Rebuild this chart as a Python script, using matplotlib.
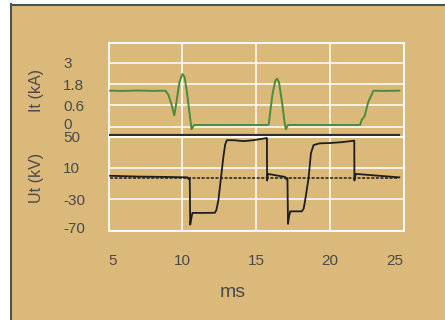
import numpy as np
import matplotlib
matplotlib.use("Agg")
import matplotlib.pyplot as plt
from matplotlib.patches import Rectangle
from matplotlib.lines import Line2D
from matplotlib.transforms import ScaledTranslation

# ── Palette ─────────────────────────────────────────────
TAN    = "#DBB97B"
BORDER = "#4B5651"
GREEN  = "#4B8C3C"
INK    = "#1E1E1E"
TEXT   = "#4A4A4A"
GRID   = "#FFFFFF"

plt.rcParams["font.family"] = ["Liberation Sans", "DejaVu Sans"]

# ── Data ────────────────────────────────────────────────
# current It (kA)
it_ms = [5.1, 6.0, 7.0, 8.0, 8.85, 9.05, 9.25, 9.45, 9.6, 9.8, 10.0, 10.15,
         10.3, 10.45, 10.62, 10.8, 12.0, 14.0, 15.8, 15.85, 16.1, 16.3, 16.42,
         16.55, 16.75, 16.95, 17.02, 17.15, 20.0, 22.05, 22.15, 22.35, 22.6,
         22.95, 23.5, 24.7]
it_ka = [1.43, 1.42, 1.44, 1.42, 1.43, 1.2, 0.7, 0.32, 0.8, 1.9, 2.37, 2.2,
         1.4, 0.5, -0.07, 0.05, 0.05, 0.05, 0.05, 0.06, 1.2, 2.0, 2.11,
         1.9, 0.8, 0.05, -0.07, 0.05, 0.05, 0.05, 0.19, 0.3, 0.8,
         1.43, 1.42, 1.43]

# voltage Ut (kV)
ut_ms = [5.1, 7.0, 9.0, 10.35, 10.4, 10.5, 10.53, 10.6, 10.68, 11.5, 12.2,
         12.3, 12.44, 12.61, 12.78, 12.9, 13.01, 13.5, 14.14, 14.8, 15.73,
         15.74, 15.8, 16.5, 16.95, 17.05, 17.12, 17.16, 17.22, 17.31, 18.1,
         18.22, 18.32, 18.55, 18.71, 18.89, 19.3, 20.0, 20.8, 21.65, 21.66,
         21.75, 23.0, 24.7]
ut_kv = [0.0, -1.0, -1.5, -2.0, -4.0, -3.0, -62.6, -55.0, -47.5, -47.5, -47.3,
         -44.0, -31.4, -3.5, 24.3, 40.0, 45.5, 45.5, 44.3, 45.5, 48.3,
         -6.0, 2.4, 0.0, -1.4, -4.5, -3.0, -61.5, -53.0, -45.5, -45.5,
         -42.0, -31.4, -3.5, 28.7, 39.3, 41.5, 41.9, 43.0, 44.9, -6.0,
         2.4, 0.5, -2.0]

ref_ms = [5.1, 24.7]
ref_kv = [-2.7, -2.7]
separator_ka = -0.23

x_ticks = [5, 10, 15, 20, 25]
it_ticks = [0, 0.6, 1.8, 3]
it_labels = ["0", "0.6", "1.8", "3"]
ut_ticks = [-70, -30, 10, 50]
ut_labels = ["-70", "-30", "10", "50"]

# uneven current axis: each gridline step is one "row"
KA_PTS = [-0.6, 0, 0.6, 1.8, 3, 4.2]
ROW_PTS = [-1, 0, 1, 2, 3, 4]


def fwd(v):
    return np.interp(v, KA_PTS, ROW_PTS)


def inv(r):
    return np.interp(r, ROW_PTS, KA_PTS)


W, H = 445, 320
fig = plt.figure(figsize=(W / 100, H / 100), dpi=100, facecolor="white")

# framed tan card
fig.patches.append(Rectangle((11 / W, 0), 1 - 11 / W, 1 - 5 / H,
                             transform=fig.transFigure, fc=TAN, ec="none", zorder=-5))
fig.lines.append(Line2D([11 / W, 11 / W], [0, 1 - 4 / H], transform=fig.transFigure,
                        color=BORDER, lw=1.5, zorder=-4))
fig.lines.append(Line2D([11 / W, 1], [1 - 4.5 / H, 1 - 4.5 / H], transform=fig.transFigure,
                        color=BORDER, lw=1.5, zorder=-4))

left, width = 108.6 / W, (403.7 - 108.6) / W
ax_i = fig.add_axes([left, 1 - 136.7 / H, width, (136.7 - 43.3) / H])
ax_u = fig.add_axes([left, 1 - 230.5 / H, width, (230.5 - 136.7) / H], sharex=ax_i)

for ax in (ax_i, ax_u):
    ax.set_facecolor("none")
    ax.set_axisbelow(True)
    ax.grid(True, color=GRID, lw=1.1)
    for s in ax.spines.values():
        s.set_color(GRID)
        s.set_linewidth(1.3)
    ax.tick_params(length=0, colors=TEXT, labelsize=11)
    ax.tick_params(axis="y", pad=32.6)

# current panel
ax_i.set_yscale("function", functions=(fwd, inv))
ax_i.plot(it_ms, it_ka, color=GREEN, lw=1.4, zorder=3)
ax_i.plot([5.1, 24.7], [separator_ka, separator_ka], color="#2E2E2E", lw=1.6, zorder=3)
ax_i.set_ylim(-0.28, 4.10)
ax_i.set_yticks(it_ticks)
ax_i.set_yticklabels(it_labels)
ax_i.minorticks_off()
ax_i.tick_params(axis="x", labelbottom=False)

# voltage panel
ax_u.plot(ut_ms, ut_kv, color=INK, lw=1.3, zorder=3)
ax_u.plot(ref_ms, ref_kv, color=INK, lw=1.1, ls=(0, (2, 1)), zorder=3)
ax_u.set_ylim(-70, 50)
ax_u.set_yticks(ut_ticks)
ax_u.set_yticklabels(ut_labels)
ax_u.set_xlim(5, 25)
ax_u.set_xticks(x_ticks)
ax_u.tick_params(axis="x", pad=17)

for ax in (ax_i, ax_u):
    for lab in ax.get_yticklabels():
        lab.set_horizontalalignment("left")

nudge = ScaledTranslation(0, 3 / 100, fig.dpi_scale_trans)
for lab in list(ax_i.get_yticklabels()) + list(ax_u.get_yticklabels()):
    if lab.get_text() in ("0", "-70"):
        lab.set_transform(lab.get_transform() + nudge)

xl = ax_u.get_xticklabels()
xl[0].set_horizontalalignment("left")
xl[-1].set_horizontalalignment("right")

fig.text(37 / W, 1 - 91 / H, "It (kA)", rotation=90, ha="center", va="center",
         fontsize=11.5, color=TEXT)
fig.text(37 / W, 1 - 178 / H, "Ut (kV)", rotation=90, ha="center", va="center",
         fontsize=11.5, color=TEXT)
fig.text(233 / W, 1 - 297 / H, "ms", ha="center", va="baseline",
         fontsize=14, color=TEXT)

fig.savefig("out.png", dpi=100, facecolor="white")
